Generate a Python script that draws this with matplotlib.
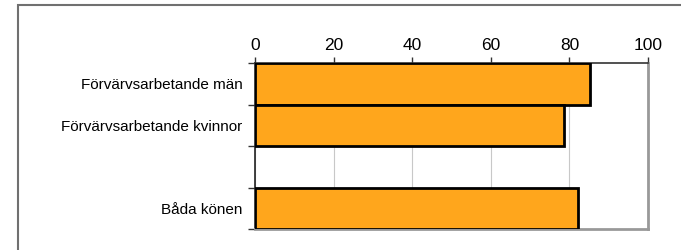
import matplotlib
matplotlib.use("Agg")
import matplotlib.pyplot as plt
from matplotlib.patches import Rectangle

# data
categories = ["Förvärvsarbetande män", "Förvärvsarbetande kvinnor", "", "Båda könen"]
values = [85.2, 78.7, 0, 82.3]
xticks = [0, 20, 40, 60, 80, 100]

plt.rcParams['font.family'] = ['Liberation Sans', 'DejaVu Sans']

fig = plt.figure(figsize=(6.81, 2.5), dpi=100)
# outer frame
fig.patches.append(Rectangle((18 / 681, -0.1), 1.0, 0.1 + 245 / 250, transform=fig.transFigure,
                             fill=False, edgecolor='#707070', linewidth=1.5))

ax = fig.add_axes([255 / 681, 21 / 250, 393 / 681, 166 / 250])
ypos = list(range(len(categories)))
for y, v, c in zip(ypos, values, categories):
    if c == "":
        continue
    ax.barh(y, v, height=1.0, color='#FFA61C', edgecolor='black', linewidth=2, zorder=3)

ax.set_xlim(0, 100)
ax.set_ylim(len(categories) - 0.5, -0.5)
ax.set_xticks(xticks)
ax.xaxis.tick_top()
ax.tick_params(axis='x', labelsize=12.5, length=4, width=1, color='#333333', pad=3)
ax.xaxis.grid(True, color='#c8c8c8', linewidth=0.8, zorder=0)

# y ticks at slot boundaries, labels at centres
ax.set_yticks([y - 0.5 for y in range(len(categories) + 1)])
ax.set_yticklabels([])
ax.set_yticks(ypos, minor=True)
ax.set_yticklabels(categories, minor=True, fontsize=11)
ax.tick_params(axis='y', which='major', length=5, width=1, color='#333333')
ax.tick_params(axis='y', which='minor', length=0, pad=9)

ax.spines['left'].set_color('#222222')
ax.spines['top'].set_color('#333333')
ax.spines['right'].set_color('#999999')
ax.spines['bottom'].set_color('#999999')
ax.spines['right'].set_linewidth(2)
ax.spines['bottom'].set_linewidth(2)
ax.spines['left'].set_linewidth(1.2)
ax.spines['top'].set_linewidth(1.2)

fig.savefig("out.png", dpi=100)
